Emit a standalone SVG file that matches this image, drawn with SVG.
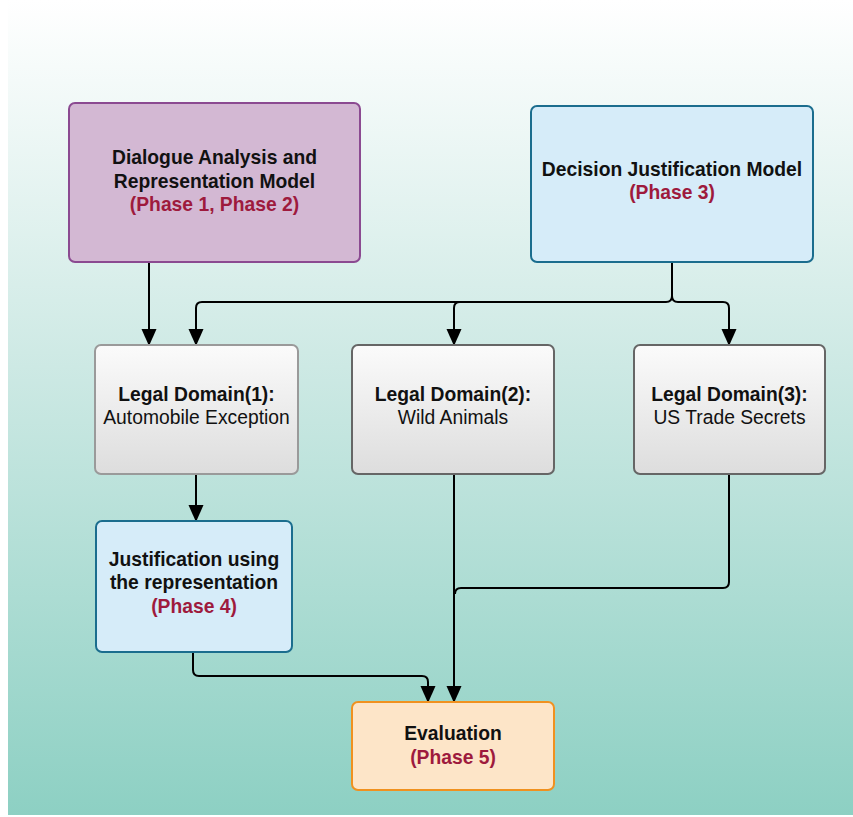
<svg xmlns="http://www.w3.org/2000/svg" width="853" height="817" viewBox="0 0 853 817">
  <defs>
    <linearGradient id="bg" x1="0" y1="0" x2="0" y2="1">
      <stop offset="0" stop-color="#ffffff"/>
      <stop offset="0.45" stop-color="#cde9e4"/>
      <stop offset="1" stop-color="#8dd0c3"/>
    </linearGradient>
    <linearGradient id="grey" x1="0" y1="0" x2="0" y2="1">
      <stop offset="0" stop-color="#fbfbfb"/>
      <stop offset="1" stop-color="#dddddd"/>
    </linearGradient>
    <marker id="head" markerWidth="17" markerHeight="16" refX="16" refY="8" orient="auto" markerUnits="userSpaceOnUse">
      <path d="M0,0.5 L17,8 L0,15.5 Z" fill="#000"/>
    </marker>
  </defs>
  <style>
    text { font-family: "Liberation Sans", Arial, sans-serif; font-size: 19.3px; text-anchor: middle; fill: #111; }
    .b { font-weight: bold; }
    .ph { font-weight: bold; fill: #9e1a3d; }
    .box { stroke-width: 2; }
    .conn { fill: none; stroke: #000; stroke-width: 2; stroke-linejoin: round; }
  </style>

  <rect x="0" y="0" width="853" height="817" fill="#ffffff"/>
  <rect x="8" y="0" width="845" height="815" fill="url(#bg)"/>

  <g id="connectors">
    <path class="conn" d="M149,262 V345" marker-end="url(#head)"/>
    <path class="conn" d="M672,262 V296 Q672,302 666,302 H202 Q196,302 196,308 V345" marker-end="url(#head)"/>
    <path class="conn" d="M460,302 Q454,302 454,308 V345" marker-end="url(#head)"/>
    <path class="conn" d="M672,296 Q672,302 678,302 H723 Q729,302 729,308 V345" marker-end="url(#head)"/>
    <path class="conn" d="M196,474 V521" marker-end="url(#head)"/>
    <path class="conn" d="M454,474 V702" marker-end="url(#head)"/>
    <path class="conn" d="M729,474 V582 Q729,588 723,588 H461 Q455,588 455,594"/>
    <path class="conn" d="M193,652 V670 Q193,676 199,676 H422 Q428,676 428,682 V702" marker-end="url(#head)"/>
  </g>

  <g id="dialogue-model">
    <rect class="box" x="69" y="103" width="291" height="159" rx="6" fill="#d3b8d3" stroke="#8b4a91"/>
    <text class="b" x="214.5" y="164">Dialogue Analysis and</text>
    <text class="b" x="214.5" y="188">Representation Model</text>
    <text class="ph" x="214.5" y="211">(Phase 1, Phase 2)</text>
  </g>

  <g id="decision-model">
    <rect class="box" x="531" y="106" width="282" height="156" rx="6" fill="#d6ecf9" stroke="#1b6d8e"/>
    <text class="b" x="672" y="176">Decision Justification Model</text>
    <text class="ph" x="672" y="199">(Phase 3)</text>
  </g>

  <g id="legal-domain-1">
    <rect class="box" x="95" y="345" width="203" height="129" rx="6" fill="url(#grey)" stroke="#9a9a9a"/>
    <text class="b" x="196.5" y="401">Legal Domain(1):</text>
    <text x="196.5" y="424">Automobile Exception</text>
  </g>

  <g id="legal-domain-2">
    <rect class="box" x="352" y="345" width="202" height="129" rx="6" fill="url(#grey)" stroke="#666666"/>
    <text class="b" x="453" y="401">Legal Domain(2):</text>
    <text x="453" y="424">Wild Animals</text>
  </g>

  <g id="legal-domain-3">
    <rect class="box" x="634" y="345" width="191" height="129" rx="6" fill="url(#grey)" stroke="#666666"/>
    <text class="b" x="729.5" y="401">Legal Domain(3):</text>
    <text x="729.5" y="424">US Trade Secrets</text>
  </g>

  <g id="justification">
    <rect class="box" x="96" y="521" width="196" height="131" rx="6" fill="#d6ecf9" stroke="#1b6d8e"/>
    <text class="b" x="194" y="566">Justification using</text>
    <text class="b" x="194" y="589">the representation</text>
    <text class="ph" x="194" y="613">(Phase 4)</text>
  </g>

  <g id="evaluation">
    <rect class="box" x="352" y="702" width="202" height="88" rx="6" fill="#fde5c8" stroke="#f0911f"/>
    <text class="b" x="453" y="740">Evaluation</text>
    <text class="ph" x="453" y="764">(Phase 5)</text>
  </g>
</svg>
